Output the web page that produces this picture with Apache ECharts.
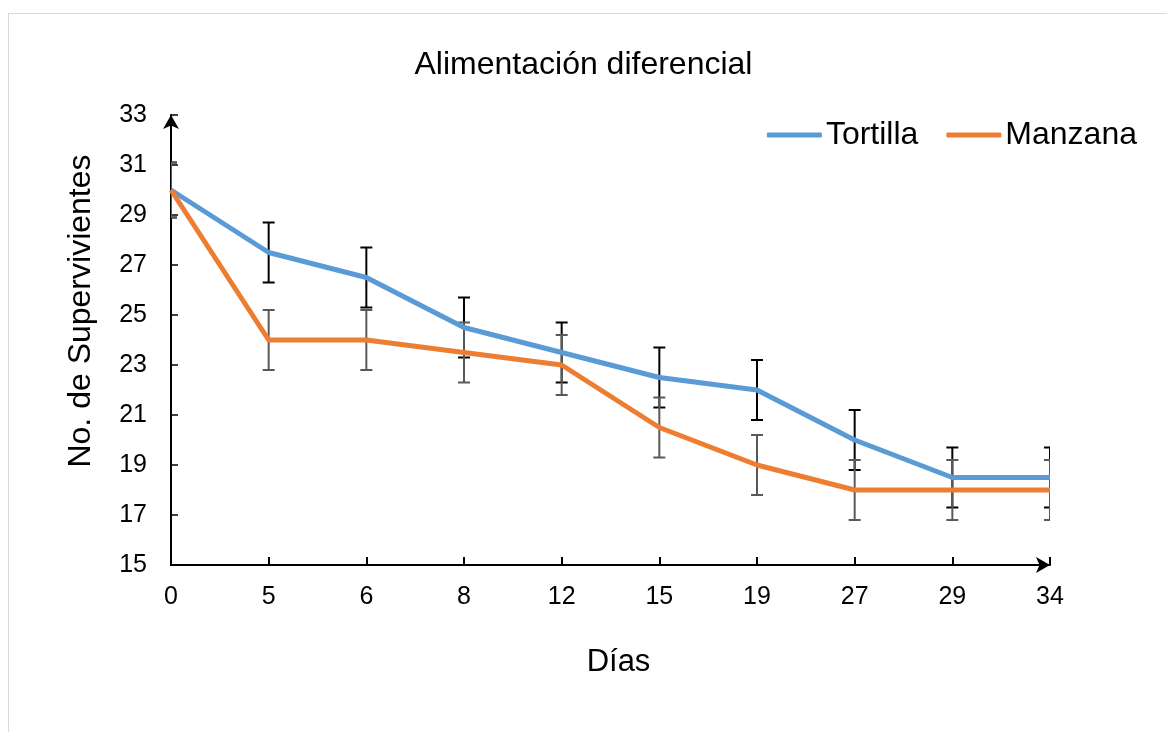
<!DOCTYPE html>
<html lang="es">
<head>
    <meta charset="UTF-8">
    <script src="https://cdn.jsdelivr.net/npm/echarts@6/dist/echarts.min.js"></script>
    <style>
        body { margin: 0; background: #fff; }
        #frame { position: absolute; left: 8px; top: 13px; width: 1170px; height: 730px; border: 1px solid #d9d9d9; }
        #chart { position: absolute; left: 0; top: 0; width: 1167px; height: 732px; }
    </style>
</head>
<body>
<div id="frame"></div>
<div id="chart"></div>
<script>
    var dias = ['0', '5', '6', '8', '12', '15', '19', '27', '29', '34'];
    var tortilla = [30, 27.5, 26.5, 24.5, 23.5, 22.5, 22, 20, 18.5, 18.5];
    var manzana = [30, 24, 24, 23.5, 23, 20.5, 19, 18, 18, 18];
    var errTortilla = [1.1, 1.2, 1.2, 1.2, 1.2, 1.2, 1.2, 1.2, 1.2, 1.2];
    var errManzana = [1.1, 1.2, 1.2, 1.2, 1.2, 1.2, 1.2, 1.2, 1.2, 1.2];

    var font = 'Liberation Sans, Arial, sans-serif';

    // barras de error: [indice, valor, error]
    function errData(vals, errs) {
        return vals.map(function (v, i) { return [i, v, errs[i]]; });
    }

    function errBar(color) {
        return function (params, api) {
            var i = api.value(0), v = api.value(1), e = api.value(2);
            var top = api.coord([i, v + e]);
            var bot = api.coord([i, v - e]);
            var w = 6;
            var st = { stroke: color, lineWidth: 2 };
            return {
                type: 'group',
                children: [
                    { type: 'line', shape: { x1: top[0], y1: top[1], x2: bot[0], y2: bot[1] }, style: st },
                    { type: 'line', shape: { x1: top[0] - w, y1: top[1], x2: top[0] + w, y2: top[1] }, style: st },
                    { type: 'line', shape: { x1: bot[0] - w, y1: bot[1], x2: bot[0] + w, y2: bot[1] }, style: st }
                ]
            };
        };
    }

    var chart = echarts.init(document.getElementById('chart'));
    var option = {
        animation: false,
        title: {
            text: 'Alimentación diferencial',
            left: 'center',
            top: 44,
            textStyle: { fontFamily: font, fontSize: 32, fontWeight: 'normal', color: '#000' }
        },
        legend: {
            right: 25,
            top: 114,
            itemWidth: 55,
            itemHeight: 5,
            itemGap: 28,
            icon: 'roundRect',
            textStyle: { fontFamily: font, fontSize: 32, color: '#000', padding: [0, 0, 0, -1] },
            data: ['Tortilla', 'Manzana']
        },
        grid: { left: 171, right: 117, top: 115, bottom: 167 },
        xAxis: {
            type: 'category',
            data: dias,
            boundaryGap: false,
            name: 'Días',
            nameLocation: 'middle',
            nameGap: 82,
            nameTextStyle: { fontFamily: font, fontSize: 31, color: '#000', padding: [0, 0, 0, 16] },
            axisLine: { lineStyle: { color: '#000', width: 2 }, symbol: ['none', 'arrow'], symbolSize: [12, 14] },
            axisTick: { inside: true, length: 8, alignWithLabel: true, lineStyle: { color: '#000', width: 2 } },
            axisLabel: { fontFamily: font, fontSize: 25, color: '#000', margin: 20, interval: 0 },
            splitLine: { show: false }
        },
        yAxis: {
            type: 'value',
            min: 15,
            max: 33,
            interval: 2,
            name: 'No. de Supervivientes',
            nameLocation: 'middle',
            nameGap: 74,
            nameTextStyle: { fontFamily: font, fontSize: 32, color: '#000', padding: [0, 0, 0, 58] },
            axisLine: { show: true, lineStyle: { color: '#000', width: 2 }, symbol: ['none', 'arrow'], symbolSize: [12, 14] },
            axisTick: { show: true, inside: true, length: 7, lineStyle: { color: '#000', width: 1.5 } },
            axisLabel: { fontFamily: font, fontSize: 25, color: '#000', margin: 24 },
            splitLine: { show: false }
        },
        series: [
            {
                name: 'Tortilla',
                type: 'line',
                data: tortilla,
                showSymbol: false,
                color: '#5B9BD5',
                lineStyle: { width: 5, color: '#5B9BD5' },
                z: 3
            },
            {
                name: 'Manzana',
                type: 'line',
                data: manzana,
                showSymbol: false,
                color: '#ED7D31',
                lineStyle: { width: 5, color: '#ED7D31' },
                z: 3
            },
            {
                type: 'custom',
                renderItem: errBar('#000'),
                data: errData(tortilla, errTortilla),
                encode: { x: 0, y: 1 },
                clip: true,
                z: 2
            },
            {
                type: 'custom',
                renderItem: errBar('#595959'),
                data: errData(manzana, errManzana),
                encode: { x: 0, y: 1 },
                clip: true,
                z: 2
            }
        ]
    };
    chart.setOption(option);
</script>
</body>
</html>
